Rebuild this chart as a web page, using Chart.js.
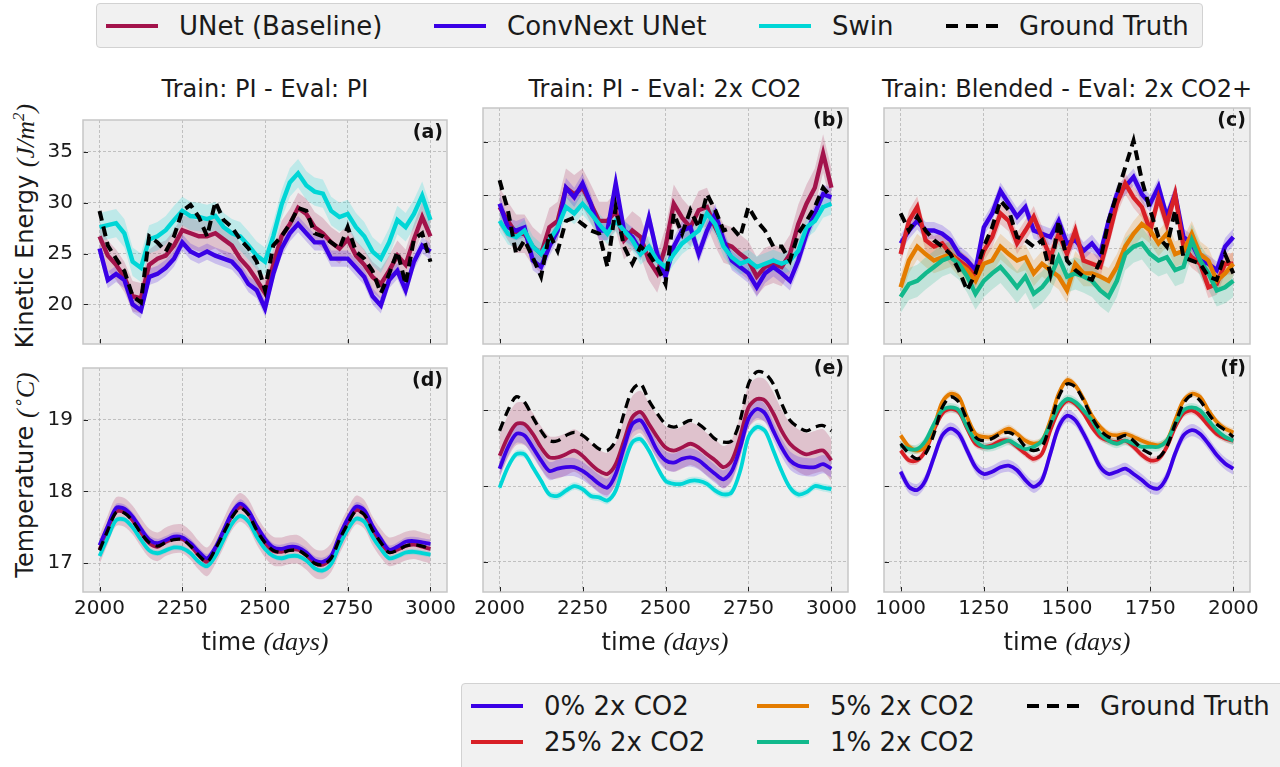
<!DOCTYPE html>
<html>
<head>
<meta charset="utf-8">
<title>Kinetic energy and temperature rollouts</title>
<script src="https://cdn.jsdelivr.net/npm/chart.js@4.4.1/dist/chart.umd.min.js"></script>
<style>
  html, body { margin: 0; padding: 0; background: #fff; }
  #fig { position: relative; width: 1280px; height: 767px; overflow: hidden; font-family: 'DejaVu Sans', sans-serif; color: #1a1a1a; }
  #fig canvas { position: absolute; }
  .txt { position: absolute; white-space: nowrap; }
  .title { font-size: 24px; line-height: 24px; text-align: center; width: 440px; top: 77px; }
  .xlabel { font-size: 24px; line-height: 30px; text-align: center; width: 300px; top: 627px; }
  .ylabel { font-size: 24px; line-height: 30px; transform: translate(-50%, -50%) rotate(-90deg); }
  .math { font-family: 'Liberation Serif', serif; font-style: italic; font-size: 26px; }
  .legend { position: absolute; background: #f1f1f1; border: 1px solid #d2d2d2; border-radius: 4px; box-sizing: border-box; }
  .handle { position: absolute; height: 4px; width: 52px; }
  .ltxt { position: absolute; font-size: 26px; line-height: 30px; white-space: nowrap; }
</style>
</head>
<body>
<div id="fig">
  <div class="legend" style="left:96px; top:3px; width:1107px; height:45px;"></div>
  <div class="handle" style="left:106px; top:24px; background:#a3134b;"></div>
  <div class="ltxt" style="left:179px; top:11px;">UNet (Baseline)</div>
  <div class="handle" style="left:434px; top:24px; background:#3a00e6;"></div>
  <div class="ltxt" style="left:507px; top:11px;">ConvNext UNet</div>
  <div class="handle" style="left:759px; top:24px; background:#00d6d6;"></div>
  <div class="ltxt" style="left:832px; top:11px;">Swin</div>
  <svg style="position:absolute; left:946px; top:20px;" width="52" height="12"><line x1="0" y1="6" x2="52" y2="6" stroke="#000" stroke-width="4" stroke-dasharray="12,8"/></svg>
  <div class="ltxt" style="left:1019px; top:11px;">Ground Truth</div>

  <div class="txt title" style="left:45px;">Train: PI - Eval: PI</div>
  <div class="txt title" style="left:445px;">Train: PI - Eval: 2x CO2</div>
  <div class="txt title" style="left:847px;">Train: Blended - Eval: 2x CO2+</div>

  <div class="txt ylabel" style="left:22px; top:226px;">Kinetic Energy <span class="math">(J/m<sup style="font-size:17px">2</sup>)</span></div>
  <div class="txt ylabel" style="left:22px; top:475px;">Temperature <span class="math">(<sup style="font-size:17px">∘</sup>C)</span></div>

  <canvas id="cvA" width="464" height="286" style="left:13px; top:98px;"></canvas>
  <canvas id="cvB" width="465" height="286" style="left:413px; top:98px;"></canvas>
  <canvas id="cvC" width="466" height="286" style="left:814px; top:98px;"></canvas>
  <canvas id="cvD" width="464" height="286" style="left:13px; top:346px;"></canvas>
  <canvas id="cvE" width="465" height="286" style="left:413px; top:346px;"></canvas>
  <canvas id="cvF" width="466" height="286" style="left:814px; top:346px;"></canvas>

  <div class="txt xlabel" style="left:115px;">time <span class="math">(days)</span></div>
  <div class="txt xlabel" style="left:515px;">time <span class="math">(days)</span></div>
  <div class="txt xlabel" style="left:917px;">time <span class="math">(days)</span></div>

  <div class="legend" style="left:461px; top:683px; width:840px; height:100px;"></div>
  <div class="handle" style="left:471px; top:704px; background:#3a00e6;"></div>
  <div class="ltxt" style="left:544px; top:691px;">0% 2x CO2</div>
  <div class="handle" style="left:471px; top:740px; background:#d81f26;"></div>
  <div class="ltxt" style="left:544px; top:727px;">25% 2x CO2</div>
  <div class="handle" style="left:757px; top:704px; background:#e47c00;"></div>
  <div class="ltxt" style="left:830px; top:691px;">5% 2x CO2</div>
  <div class="handle" style="left:757px; top:740px; background:#12b98c;"></div>
  <div class="ltxt" style="left:830px; top:727px;">1% 2x CO2</div>
  <svg style="position:absolute; left:1027px; top:700px;" width="52" height="12"><line x1="0" y1="6" x2="52" y2="6" stroke="#000" stroke-width="4" stroke-dasharray="12,8"/></svg>
  <div class="ltxt" style="left:1100px; top:691px;">Ground Truth</div>
</div>

<script>
// sampled days (every 25 days) and axis ticks
const daysPI = [2000,2025,2050,2075,2100,2125,2150,2175,2200,2225,2250,2275,2300,2325,2350,2375,2400,2425,2450,2475,2500,
                2525,2550,2575,2600,2625,2650,2675,2700,2725,2750,2775,2800,2825,2850,2875,2900,2925,2950,2975,3000];
const daysBlend = [1000,1025,1050,1075,1100,1125,1150,1175,1200,1225,1250,1275,1300,1325,1350,1375,1400,1425,1450,1475,1500,
                   1525,1550,1575,1600,1625,1650,1675,1700,1725,1750,1775,1800,1825,1850,1875,1900,1925,1950,1975,2000];
const ticksPI = [2000, 2250, 2500, 2750, 3000];
const ticksBlend = [1000, 1250, 1500, 1750, 2000];
const ticksKE = [20, 25, 30, 35];
const ticksTemp = [17, 18, 19];

// (a) kinetic energy, train PI / eval PI
const keA_unet     = [26.7,24.8,23.9,22.7,20.8,20.6,23.9,24.5,24.8,25.8,27.3,27.0,26.7,26.7,27.0,26.4,25.8,24.5,23.6,22.4,21.1,23.9,26.7,27.9,29.5,28.9,27.6,27.0,26.1,25.5,26.4,24.8,23.9,22.7,22.0,23.3,24.8,23.9,26.4,28.6,26.7];
const keA_convnext = [25.5,22.4,23.0,22.4,20.0,19.4,22.7,23.0,23.6,24.5,26.1,25.2,24.8,25.2,24.8,24.5,24.2,23.3,22.0,21.4,19.6,23.0,25.5,27.0,27.9,27.0,26.1,26.1,24.5,24.5,24.5,23.6,22.7,20.8,19.9,22.4,23.3,21.4,24.2,25.8,25.2];
const keA_swin     = [27.6,27.8,28.0,27.0,24.2,23.6,26.4,26.7,27.3,28.3,29.2,28.7,28.6,28.4,28.7,27.6,27.0,26.7,25.8,24.8,24.2,26.7,29.8,32.0,32.9,31.7,31.1,30.9,29.2,28.6,28.9,27.6,26.7,25.2,24.5,26.1,28.3,27.6,28.9,30.7,28.3];
const keA_truth    = [29.2,25.8,24.5,23.3,20.8,20.2,26.7,26.1,25.2,26.7,29.2,29.8,28.6,26.7,30.1,28.3,27.6,26.4,25.5,24.2,21.4,25.8,26.7,27.9,29.5,29.2,27.0,26.7,26.1,25.5,27.6,25.2,24.5,23.3,21.1,23.0,25.2,22.0,26.4,27.0,24.2];

// (b) kinetic energy, train PI / eval 2x CO2
const keB_unet     = [28.9,27.6,26.4,26.4,25.2,24.5,27.0,27.6,30.7,30.1,30.7,29.2,27.6,27.6,28.5,25.8,26.7,26.1,23.9,22.7,25.2,29.2,27.9,27.0,28.6,28.9,27.0,25.5,25.2,24.5,23.9,22.4,23.3,23.6,23.3,24.5,27.3,29.2,30.7,33.9,30.7];
const keB_convnext = [29.2,27.0,26.7,27.0,23.9,23.3,25.2,26.7,30.7,29.8,31.1,29.2,26.7,26.7,31.1,26.7,26.1,24.8,27.9,24.5,22.4,25.2,26.7,27.0,24.5,26.7,28.3,25.8,23.9,23.3,22.7,21.4,22.7,23.3,22.7,22.0,23.9,26.4,28.3,30.1,29.8];
const keB_swin     = [27.6,26.4,26.1,26.7,25.2,24.5,25.8,27.0,28.9,28.3,29.2,28.3,27.3,26.4,27.6,26.7,25.8,24.5,25.2,23.9,23.3,24.5,25.5,26.1,26.7,28.3,27.3,25.2,24.2,23.6,23.9,23.3,23.6,23.9,23.6,23.9,24.8,27.0,27.6,28.9,29.2];
const keB_truth    = [31.4,28.6,24.5,25.8,24.2,22.4,26.4,24.8,27.6,27.9,27.3,26.7,26.4,23.3,28.9,25.2,23.6,25.2,24.5,23.3,21.7,28.3,26.4,28.6,27.0,30.1,28.6,26.7,27.0,26.1,28.9,27.6,26.7,25.2,25.2,23.9,26.4,27.6,28.9,30.7,29.8];

// (c) kinetic energy, train blended / eval 2x CO2+
const keC_p0    = [25.5,26.7,27.6,26.7,26.7,26.4,25.8,24.5,23.9,23.0,27.0,28.3,30.4,29.2,28.0,28.9,26.7,26.4,26.1,27.6,25.5,25.8,24.8,25.5,24.5,27.6,30.1,30.8,31.7,30.1,29.2,30.8,28.0,30.1,26.1,25.5,23.9,23.6,23.0,25.2,26.1];
const keC_p25   = [24.5,27.6,28.9,25.8,25.2,25.5,24.5,23.9,23.3,22.4,24.8,26.1,28.3,27.6,25.5,26.7,28.0,26.1,24.2,26.4,24.5,26.7,23.9,23.6,23.3,26.1,29.2,31.1,29.8,28.9,26.7,29.8,27.3,30.1,25.2,24.2,23.6,21.4,21.7,23.6,23.6];
const keC_p5    = [21.4,23.9,25.2,24.5,23.9,24.2,24.5,23.6,23.0,22.0,23.6,23.9,25.2,24.5,23.9,24.2,22.7,23.6,23.0,22.4,21.1,23.6,22.7,22.7,22.4,22.0,23.3,25.2,26.4,27.3,26.7,25.5,26.4,24.5,24.8,26.4,24.5,23.9,22.0,22.7,23.6];
const keC_p1    = [20.5,21.7,22.0,22.7,23.3,23.9,24.2,23.6,22.4,20.8,22.0,22.7,23.3,22.4,21.4,22.4,20.8,21.4,22.4,24.2,22.4,22.7,22.4,22.0,21.1,20.5,22.0,24.5,25.2,25.5,24.5,23.9,24.2,23.0,23.3,25.8,23.9,22.7,21.1,21.4,22.0];
const keC_truth = [28.3,26.7,28.0,26.7,25.8,25.2,24.5,23.0,21.1,22.7,25.2,27.0,29.5,28.6,26.1,25.8,25.2,25.8,22.7,27.6,23.9,23.0,22.4,22.1,23.9,27.6,30.1,32.6,35.1,31.4,28.6,26.1,25.2,28.6,24.2,23.9,23.6,22.4,22.1,24.5,22.7];

// (d) temperature, train PI / eval PI
const tD_unet     = [17.19,17.47,17.72,17.71,17.60,17.43,17.28,17.23,17.30,17.34,17.34,17.25,17.11,17.02,17.19,17.42,17.66,17.78,17.69,17.46,17.28,17.17,17.16,17.19,17.19,17.11,17.00,16.98,17.08,17.33,17.56,17.74,17.68,17.45,17.28,17.16,17.19,17.24,17.26,17.23,17.20];
const tD_convnext = [17.25,17.52,17.77,17.76,17.65,17.48,17.33,17.28,17.32,17.37,17.36,17.28,17.16,17.07,17.22,17.46,17.70,17.83,17.73,17.52,17.34,17.22,17.20,17.23,17.22,17.15,17.04,17.02,17.10,17.38,17.62,17.79,17.74,17.52,17.34,17.19,17.23,17.30,17.31,17.29,17.27];
const tD_swin     = [17.10,17.36,17.60,17.61,17.50,17.33,17.18,17.14,17.18,17.22,17.21,17.14,17.02,16.96,17.10,17.33,17.55,17.66,17.58,17.37,17.20,17.10,17.07,17.10,17.10,17.04,16.93,16.90,16.99,17.25,17.47,17.62,17.58,17.37,17.20,17.07,17.10,17.15,17.16,17.14,17.12];
const tD_truth    = [17.18,17.46,17.71,17.70,17.59,17.42,17.29,17.24,17.29,17.33,17.33,17.24,17.11,17.02,17.20,17.42,17.64,17.77,17.68,17.46,17.29,17.18,17.15,17.18,17.18,17.11,17.00,16.98,17.07,17.33,17.55,17.73,17.68,17.46,17.29,17.15,17.18,17.24,17.26,17.24,17.20];

// (e) temperature, train PI / eval 2x CO2
const tE_unet     = [18.40,18.65,18.82,18.82,18.69,18.51,18.38,18.38,18.42,18.47,18.40,18.29,18.20,18.16,18.29,18.60,18.91,18.98,18.82,18.65,18.51,18.47,18.51,18.56,18.51,18.42,18.34,18.25,18.34,18.65,19.04,19.15,19.13,18.96,18.73,18.56,18.47,18.42,18.45,18.47,18.34];
const tE_convnext = [18.23,18.51,18.69,18.67,18.51,18.34,18.20,18.23,18.25,18.25,18.20,18.12,18.03,17.98,18.16,18.51,18.82,18.87,18.69,18.47,18.34,18.31,18.36,18.38,18.34,18.25,18.16,18.09,18.20,18.51,18.89,19.02,18.96,18.73,18.51,18.34,18.27,18.25,18.25,18.29,18.23];
const tE_swin     = [17.98,18.25,18.42,18.42,18.25,18.07,17.89,17.87,17.94,18.00,17.96,17.87,17.85,17.81,17.94,18.29,18.58,18.62,18.47,18.25,18.07,18.03,18.03,18.07,18.07,18.03,17.94,17.89,17.92,18.20,18.65,18.78,18.73,18.47,18.20,17.98,17.89,17.92,18.00,17.98,17.96];
const tE_truth    = [18.73,19.00,19.18,19.11,18.91,18.73,18.60,18.60,18.67,18.71,18.67,18.58,18.49,18.47,18.60,18.96,19.27,19.35,19.13,18.96,18.82,18.78,18.82,18.87,18.82,18.73,18.62,18.58,18.60,18.87,19.35,19.51,19.49,19.35,19.09,18.87,18.78,18.73,18.78,18.80,18.73];

// (f) temperature, train blended / eval 2x CO2+
const tF_p0    = [18.19,17.99,17.95,18.08,18.38,18.67,18.76,18.69,18.47,18.25,18.16,18.19,18.25,18.27,18.21,18.08,17.99,18.08,18.43,18.78,18.93,18.87,18.69,18.47,18.25,18.16,18.19,18.23,18.16,18.08,17.99,17.97,18.12,18.43,18.67,18.74,18.69,18.56,18.41,18.30,18.23];
const tF_p25   = [18.47,18.34,18.34,18.47,18.74,18.96,19.02,18.98,18.76,18.56,18.52,18.54,18.60,18.60,18.52,18.43,18.36,18.43,18.74,19.00,19.13,19.09,18.96,18.78,18.65,18.60,18.58,18.60,18.52,18.41,18.34,18.36,18.52,18.78,18.96,19.00,18.93,18.80,18.69,18.63,18.60];
const tF_p5    = [18.67,18.52,18.47,18.52,18.78,19.11,19.22,19.18,18.91,18.69,18.65,18.65,18.71,18.76,18.69,18.60,18.56,18.60,18.87,19.22,19.40,19.33,19.15,18.93,18.78,18.69,18.67,18.69,18.65,18.60,18.56,18.54,18.60,18.87,19.13,19.22,19.18,19.00,18.85,18.76,18.71];
const tF_p1    = [18.54,18.49,18.49,18.60,18.82,19.00,19.04,19.00,18.78,18.60,18.52,18.52,18.56,18.60,18.54,18.49,18.52,18.60,18.82,19.04,19.15,19.11,19.00,18.87,18.69,18.60,18.56,18.60,18.56,18.52,18.52,18.52,18.60,18.82,19.00,19.04,19.00,18.87,18.74,18.65,18.60];
const tF_truth = [18.56,18.43,18.36,18.43,18.69,19.04,19.18,19.11,18.87,18.65,18.60,18.63,18.69,18.71,18.65,18.52,18.47,18.52,18.82,19.18,19.35,19.31,19.13,18.91,18.74,18.65,18.63,18.67,18.60,18.49,18.43,18.38,18.52,18.82,19.09,19.20,19.13,18.96,18.82,18.74,18.65];

// ensemble spread (half width of the shaded band), read per panel
const spreadA = { unet: 1.5, convnext: 0.8, swin: 1.4 };
const spreadB = { unet: 1.8, convnext: 0.9, swin: 1.0 };
const spreadC = { p0: 0.8, p25: 1.0, p5: 1.2, p1: 1.5 };
const spreadD = { unet: 0.2, convnext: 0.06, swin: 0.04 };
const spreadE = { unet: 0.28, convnext: 0.12, swin: 0.05 };
const spreadF = { p0: 0.08, p25: 0.05, p5: 0.05, p1: 0.06 };

const cUnet = '#a3134b', cConv = '#3a00e6', cSwin = '#00d6d6', cTruth = '#000000';
const c0 = '#3a00e6', c25 = '#d81f26', c5 = '#e47c00', c1 = '#12b98c';

Chart.defaults.font.family = "'DejaVu Sans', sans-serif";
Chart.defaults.color = '#1a1a1a';

function hexA(hex, a) {
    var n = parseInt(hex.slice(1), 16);
    return 'rgba(' + (n >> 16) + ',' + ((n >> 8) & 255) + ',' + (n & 255) + ',' + a + ')';
}

function pts(days, vals, shift) {
    return days.map(function (d, i) { return { x: d, y: vals[i] + (shift || 0) }; });
}

// axes background, frame, inward tick marks and panel letter
const framePlugin = {
    id: 'frame',
    beforeDraw: function (chart) {
        var a = chart.chartArea, ctx = chart.ctx;
        ctx.save();
        ctx.fillStyle = '#eeeeee';
        ctx.fillRect(a.left, a.top, a.right - a.left, a.bottom - a.top);
        ctx.restore();
    },
    afterDraw: function (chart, args, opts) {
        var a = chart.chartArea, ctx = chart.ctx;
        var xs = chart.scales.x, ys = chart.scales.y;
        ctx.save();
        ctx.strokeStyle = '#222';
        ctx.lineWidth = 1;
        ctx.beginPath();
        xs.ticks.forEach(function (t) {
            var px = Math.round(xs.getPixelForValue(t.value)) + 0.5;
            ctx.moveTo(px, a.bottom); ctx.lineTo(px, a.bottom - 5);
        });
        ys.ticks.forEach(function (t) {
            var py = Math.round(ys.getPixelForValue(t.value)) + 0.5;
            ctx.moveTo(a.left, py); ctx.lineTo(a.left + 5, py);
        });
        ctx.stroke();
        ctx.strokeStyle = '#c6c6c6';
        ctx.lineWidth = 1.5;
        ctx.strokeRect(a.left, a.top, a.right - a.left, a.bottom - a.top);
        ctx.fillStyle = '#111';
        ctx.font = "bold 19px 'DejaVu Sans'";
        ctx.textAlign = 'right';
        ctx.textBaseline = 'alphabetic';
        ctx.fillText(opts.letter, a.right - 4, a.top + 18);
        ctx.restore();
    }
};

function buildPanel(cfg) {
    var canvas = document.getElementById(cfg.id);
    var datasets = [];
    cfg.series.forEach(function (s, k) {
        if (!s.spread) return;
        datasets.push({ data: pts(cfg.days, s.values, s.spread), borderColor: 'rgba(0,0,0,0)', borderWidth: 0,
            pointRadius: 0, fill: '+1', backgroundColor: hexA(s.color, 0.2), tension: cfg.tension, order: 50 - k });
        datasets.push({ data: pts(cfg.days, s.values, -s.spread), borderColor: 'rgba(0,0,0,0)', borderWidth: 0,
            pointRadius: 0, fill: false, tension: cfg.tension, order: 50 - k });
    });
    cfg.series.forEach(function (s, k) {
        datasets.push({ data: pts(cfg.days, s.values), borderColor: s.color, borderWidth: s.dash ? cfg.wTruth : cfg.wLine,
            borderDash: s.dash || [], pointRadius: 0, fill: false, tension: cfg.tension,
            order: s.dash ? 0 : 20 - k });
    });

    new Chart(canvas.getContext('2d'), {
        type: 'line',
        data: { datasets: datasets },
        plugins: [framePlugin],
        options: {
            responsive: false,
            animation: false,
            events: [],
            layout: { padding: { top: 10, right: 30, left: 0, bottom: 0 } },
            plugins: { legend: { display: false }, tooltip: { enabled: false }, frame: { letter: cfg.letter } },
            scales: {
                x: {
                    type: 'linear', min: cfg.xMin, max: cfg.xMax,
                    afterBuildTicks: function (s) { s.ticks = cfg.xTicks.map(function (v) { return { value: v }; }); },
                    afterFit: function (s) { s.height = 40; },
                    ticks: { display: cfg.showX, font: { size: 20 }, padding: 5, maxRotation: 0, autoSkip: false,
                        callback: function (v) { return String(v); } },
                    grid: { color: '#b4b4b4', lineWidth: 0.8, drawTicks: false },
                    border: { display: false, dash: [3, 2] }
                },
                y: {
                    type: 'linear', min: cfg.yMin, max: cfg.yMax,
                    afterBuildTicks: function (s) { s.ticks = cfg.yTicks.map(function (v) { return { value: v }; }); },
                    afterFit: function (s) { s.width = 70; },
                    ticks: { display: cfg.showY, font: { size: 20 }, padding: 10, autoSkip: false,
                        callback: function (v) { return String(v); } },
                    grid: { color: '#b4b4b4', lineWidth: 0.8, drawTicks: false },
                    border: { display: false, dash: [3, 2] }
                }
            }
        }
    });
}

const dashGT = [10, 6];
const topRow = { yMin: 16.1, yMax: 38.15, yTicks: ticksKE, showX: false, tension: 0, wLine: 4.4, wTruth: 4 };
const botRow = { yMin: 16.6, yMax: 19.72, yTicks: ticksTemp, showX: true, tension: 0.3, wLine: 3.8, wTruth: 3.3 };
const piCols = { days: daysPI, xMin: 1950, xMax: 3050, xTicks: ticksPI };
const blCols = { days: daysBlend, xMin: 950, xMax: 2050, xTicks: ticksBlend };

function modelSeries(u, c, s, t, sp) {
    return [
        { values: u, color: cUnet, spread: sp.unet },
        { values: c, color: cConv, spread: sp.convnext },
        { values: s, color: cSwin, spread: sp.swin },
        { values: t, color: cTruth, dash: dashGT }
    ];
}
function blendSeries(p0, p25, p5, p1, t, sp) {
    return [
        { values: p0, color: c0, spread: sp.p0 },
        { values: p25, color: c25, spread: sp.p25 },
        { values: p5, color: c5, spread: sp.p5 },
        { values: p1, color: c1, spread: sp.p1 },
        { values: t, color: cTruth, dash: dashGT }
    ];
}

buildPanel(Object.assign({ id: 'cvA', letter: '(a)', showY: true,
    series: modelSeries(keA_unet, keA_convnext, keA_swin, keA_truth, spreadA) }, topRow, piCols));
buildPanel(Object.assign({ id: 'cvB', letter: '(b)', showY: false,
    series: modelSeries(keB_unet, keB_convnext, keB_swin, keB_truth, spreadB) }, topRow, piCols));
buildPanel(Object.assign({ id: 'cvC', letter: '(c)', showY: false,
    series: blendSeries(keC_p0, keC_p25, keC_p5, keC_p1, keC_truth, spreadC) }, topRow, blCols));
buildPanel(Object.assign({ id: 'cvD', letter: '(d)', showY: true,
    series: modelSeries(tD_unet, tD_convnext, tD_swin, tD_truth, spreadD) }, botRow, piCols));
buildPanel(Object.assign({ id: 'cvE', letter: '(e)', showY: false,
    series: modelSeries(tE_unet, tE_convnext, tE_swin, tE_truth, spreadE) }, botRow, piCols));
buildPanel(Object.assign({ id: 'cvF', letter: '(f)', showY: false,
    series: blendSeries(tF_p0, tF_p25, tF_p5, tF_p1, tF_truth, spreadF) }, botRow, blCols));
</script>
</body>
</html>
